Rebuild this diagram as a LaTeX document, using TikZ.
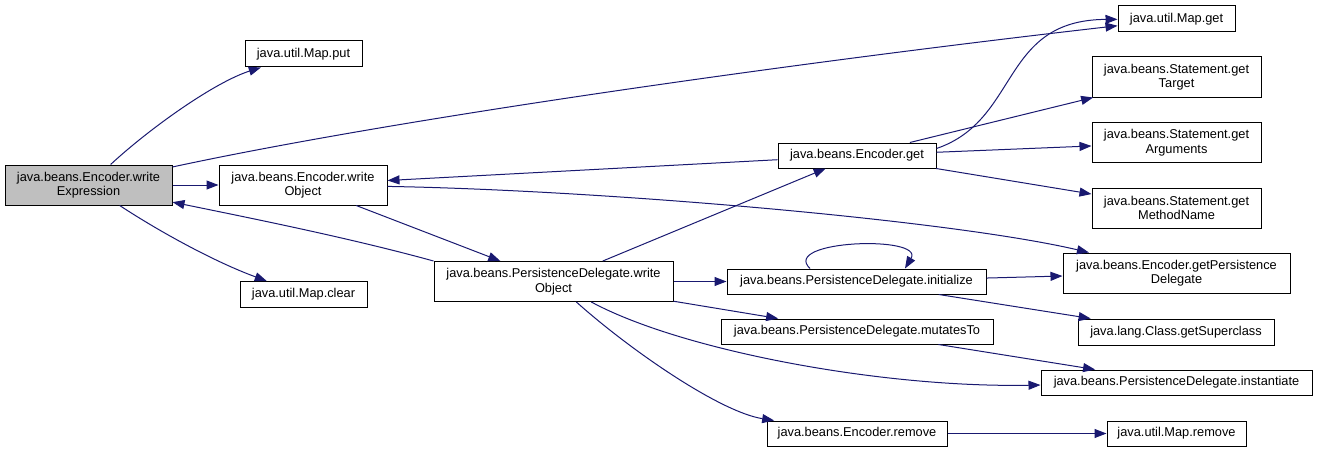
\documentclass[tikz,border=0pt]{standalone}
\usepackage{fontspec}
\setmainfont{Liberation Sans}
\usetikzlibrary{arrows.meta}
\definecolor{edgeblue}{RGB}{25,25,112}
\definecolor{rootgray}{RGB}{191,191,191}
\begin{document}
\begin{tikzpicture}[x=1pt,y=-1pt,
  box/.style={draw=black, line width=1pt, fill=white, inner sep=0pt, align=center,
    font=\fontsize{12.8}{14.5}\selectfont},
  edge/.style={draw=edgeblue, line width=1pt, -{Triangle[length=12pt,width=9pt]}, fill=none}]
\useasboundingbox (0,0) rectangle (1317,452);
% nodes
\node[box, fill=rootgray, minimum width=167pt, minimum height=40pt] (wexp) at (88.5,185) {java.beans.Encoder.write\\Expression};
\node[box, minimum width=117pt, minimum height=26pt] (mput) at (303.5,54) {java.util.Map.put};
\node[box, minimum width=168pt, minimum height=40pt] (wobj) at (303,185) {java.beans.Encoder.write\\Object};
\node[box, minimum width=127pt, minimum height=26pt] (mclear) at (303.5,294.5) {java.util.Map.clear};
\node[box, minimum width=239pt, minimum height=40pt] (pdwo) at (553.5,281.5) {java.beans.PersistenceDelegate.write\\Object};
\node[box, minimum width=158pt, minimum height=25pt] (eget) at (857,155.5) {java.beans.Encoder.get};
\node[box, minimum width=117pt, minimum height=26pt] (mget) at (1176.5,19) {java.util.Map.get};
\node[box, minimum width=169pt, minimum height=40pt] (sgt) at (1176.5,77) {java.beans.Statement.get\\Target};
\node[box, minimum width=169pt, minimum height=40pt] (sga) at (1176.5,142.5) {java.beans.Statement.get\\Arguments};
\node[box, minimum width=169pt, minimum height=40pt] (sgm) at (1176.5,208) {java.beans.Statement.get\\MethodName};
\node[box, minimum width=259pt, minimum height=25pt] (init) at (856.5,281.5) {java.beans.PersistenceDelegate.initialize};
\node[box, minimum width=227pt, minimum height=40pt] (gpd) at (1176.5,273) {java.beans.Encoder.getPersistence\\Delegate};
\node[box, minimum width=272pt, minimum height=25pt] (mut) at (857,331.5) {java.beans.PersistenceDelegate.mutatesTo};
\node[box, minimum width=196pt, minimum height=26pt] (gsc) at (1176,332) {java.lang.Class.getSuperclass};
\node[box, minimum width=271pt, minimum height=25pt] (inst) at (1176.5,382.5) {java.beans.PersistenceDelegate.instantiate};
\node[box, minimum width=180pt, minimum height=25pt] (erem) at (857,433.5) {java.beans.Encoder.remove};
\node[box, minimum width=139pt, minimum height=25pt] (mrem) at (1176.5,433.5) {java.util.Map.remove};
% edges
\draw[edge] (wexp) .. controls (150,128) and (215,82) .. (mput);
\draw[edge] (wexp) .. controls (400,118) and (800,62) .. (mget);
\draw[edge] (wexp) -- (wobj);
\draw[edge] (wexp) .. controls (160,232) and (215,262) .. (mclear);
\draw[edge] (pdwo.north west) .. controls (350,238) and (250,218) .. (wexp);
\draw[edge] (wobj) -- (pdwo);
\draw[edge] (eget) -- (wobj);
\draw[edge] (wobj) .. controls (600,190) and (950,220) .. (gpd);
\draw[edge] (pdwo) -- (eget);
\draw[edge] (pdwo) -- (init);
\draw[edge] (pdwo) -- (mut);
\draw[edge] (pdwo) .. controls (680,350) and (880,388) .. (inst);
\draw[edge] (pdwo) .. controls (630,350) and (720,412) .. (erem);
\draw[edge] ([yshift=7pt]eget.east) .. controls (1020,120) and (1000,20) .. (mget);
\draw[edge] (eget) -- (sgt);
\draw[edge] (eget) -- (sga);
\draw[edge] (eget) -- (sgm);
\draw[edge] ([xshift=-46.5pt]init.north) .. controls (780,240) and (925,235) .. ([xshift=48.5pt]init.north);
\draw[edge] (init) -- (gpd);
\draw[edge] (init) -- (gsc);
\draw[edge] (mut) -- (inst);
\draw[edge] (erem) -- (mrem);
\end{tikzpicture}
\end{document}
